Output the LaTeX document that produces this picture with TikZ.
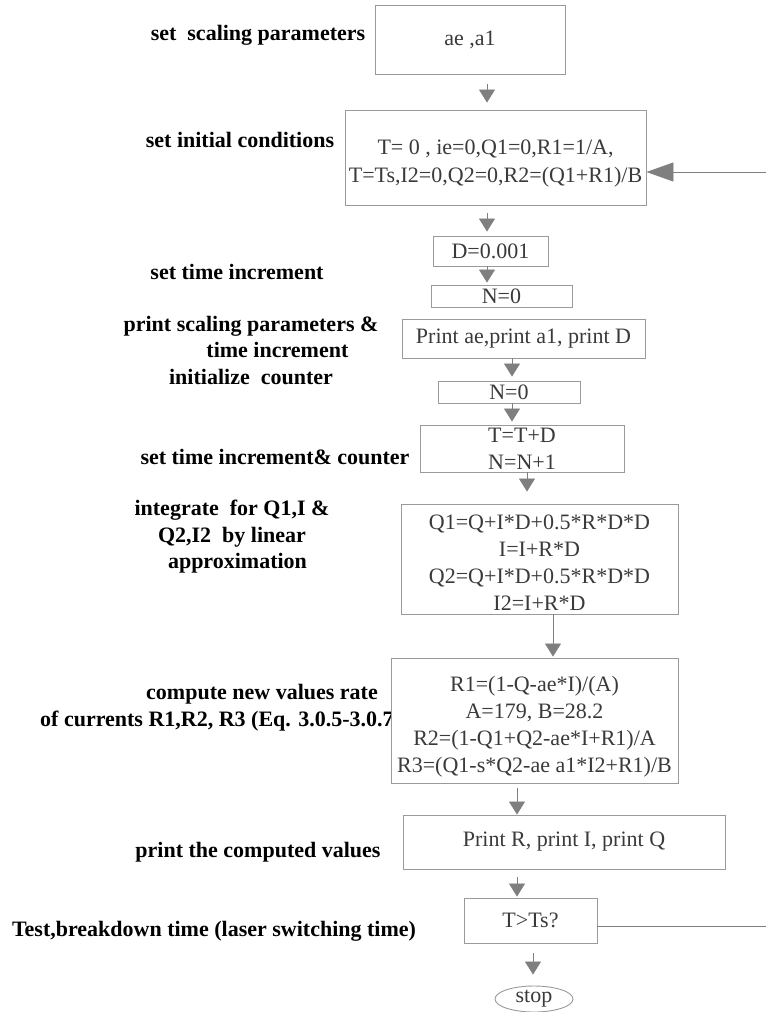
\documentclass[tikz,border=0pt]{standalone}
\usepackage{fontspec}
\setmainfont{Liberation Serif}
\usetikzlibrary{arrows.meta,shapes.geometric}
\definecolor{boxline}{HTML}{9A9A9A}
\definecolor{boxtext}{HTML}{3A3A3A}
\definecolor{arrgray}{HTML}{7F7F7F}

\begin{document}
\begin{tikzpicture}[x=1pt,y=-1pt,font=\fontsize{22}{27}\selectfont,
 box/.style={draw=boxline,fill=white,line width=0.9pt,text=boxtext,align=center,inner sep=0pt},
 lbl/.style={font=\fontsize{22}{26.5}\selectfont\bfseries,align=center,inner sep=0pt},
 arr/.style={draw=arrgray,line width=0.8pt,-{Triangle[length=13pt,width=16pt]}},
 bigarr/.style={draw=arrgray,line width=0.8pt,-{Triangle[length=27pt,width=19pt]}},
 loopline/.style={draw=arrgray,line width=0.8pt}]
\useasboundingbox (0,0) rectangle (766,1012);
% left-hand labels
\node[lbl] (lscale) at (258,35) {set\ \ scaling parameters};
\node[lbl] (linit) at (240,140) {set initial conditions};
\node[lbl] (linc) at (237,272) {set time increment};
\node[lbl] (lprint) at (251,350) {print scaling parameters \&\\\hspace*{2.4em}time increment\\initialize\ \ counter};
\node[lbl] (lcount) at (275,457) {set time increment\& counter};
\node[lbl] (linteg) at (232,537) {integrate\ \ for Q1,I \&\\Q2,I2\ \ by linear\\\ \ approximation};
\node[lbl] (lrate) at (262,694) {compute new values rate};
\node[lbl,anchor=west] (lrateb) at (40,721) {of currents R1,R2, R3 (Eq. 3.0.5-3.0.7};
\node[lbl] (lshow) at (258,852) {print the computed values};
\node[lbl] (ltest) at (214,931) {Test,breakdown time (laser switching time)};
% flow boxes
\node[box,minimum width=190pt,minimum height=69pt] (scale) at (470,39.5) {ae ,a1};
\node[box,minimum width=301pt,minimum height=95pt,font=\fontsize{22}{28}\selectfont] (init) at (495.5,157.5) {\rule{0pt}{27pt}T= 0 , ie=0,Q1=0,R1=1/A,\\T=Ts,I2=0,Q2=0,R2=(Q1+R1)/B};
\node[box,minimum width=115pt,minimum height=30pt] (dstep) at (490.5,251) {D=0.001};
\node[box,minimum width=141pt,minimum height=22pt] (nzero) at (501.5,296) {N=0};
\node[box,minimum width=243pt,minimum height=39pt] (pscale) at (523.5,338.5) {Print ae,print a1, print D};
\node[box,minimum width=142pt,minimum height=22pt] (nzerob) at (509,392) {N=0};
\node[box,minimum width=204pt,minimum height=47pt] (tick) at (522,448.5) {T=T+D\\N=N+1};
\node[box,minimum width=277pt,minimum height=110pt] (integ) at (539.5,559) {\rule{0pt}{23pt}Q1=Q+I*D+0.5*R*D*D\\I=I+R*D\\Q2=Q+I*D+0.5*R*D*D\\I2=I+R*D};
\node[box,minimum width=287pt,minimum height=125pt] (rates) at (534.5,720.5) {\rule{0pt}{27pt}R1=(1-Q-ae*I)/(A)\\A=179, B=28.2\\R2=(1-Q1+Q2-ae*I+R1)/A\\R3=(Q1-s*Q2-ae a1*I2+R1)/B};
\node[box,minimum width=322pt,minimum height=54pt] (show) at (564,842) {Print R, print I, print Q};
\node[box,minimum width=133pt,minimum height=45pt] (test) at (530.5,920.5) {T>Ts?};
\node[box,ellipse,minimum width=78pt,minimum height=26pt] (stop) at (534,999) {stop};
% connectors
\coordinate (loopin) at (766,172);
\coordinate (loopout) at (766,926);
\draw[arr,shorten <=10pt,shorten >=7pt] (487,0 |- scale.south) -- (487,0 |- init.north);
\draw[arr,shorten <=8pt,shorten >=4pt] (487,0 |- init.south) -- (487,0 |- dstep.north);
\draw[arr,shorten >=2pt] (487,0 |- dstep.south) -- (487,0 |- nzero.north);
\draw[arr,shorten >=4pt] (512,0 |- pscale.south) -- (512,0 |- nzerob.north);
\draw[arr,shorten >=3pt] (512,0 |- nzerob.south) -- (512,0 |- tick.north);
\draw[arr,shorten >=12pt] (527,0 |- tick.south) -- (527,0 |- integ.north);
\draw[arr,shorten >=1pt] (553,0 |- integ.south) -- (553,0 |- rates.north);
\draw[arr,shorten <=5pt] (517,0 |- rates.south) -- (517,0 |- show.north);
\draw[arr,shorten <=8pt,shorten >=1pt] (517,0 |- show.south) -- (517,0 |- test.north);
\draw[arr,shorten <=10pt,shorten >=11pt] (533,0 |- test.south) -- (533,0 |- stop.north);
\draw[loopline] (test.east |- loopout) -- (loopout);
\draw[bigarr] (loopin) -- (init.east |- loopin);
\end{tikzpicture}
\end{document}
